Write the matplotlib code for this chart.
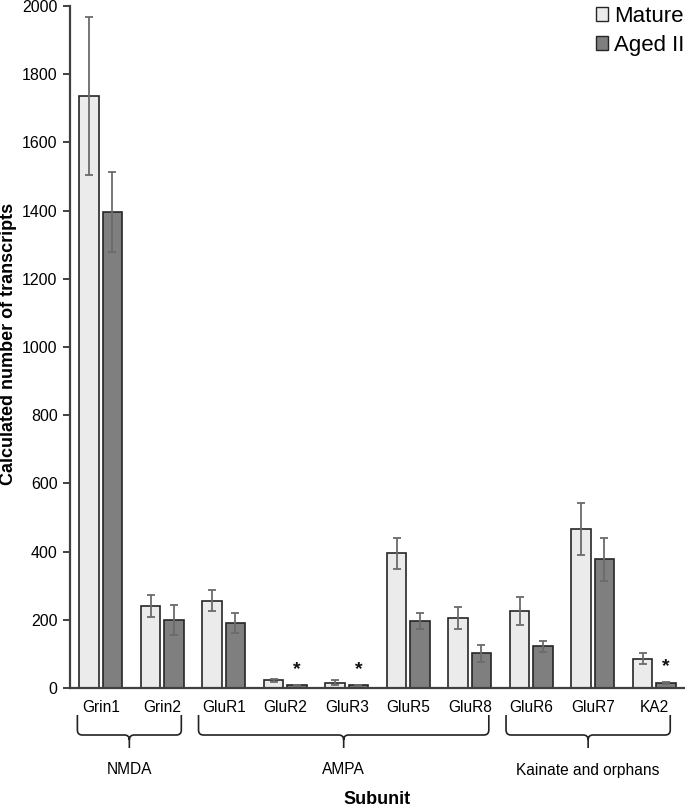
import matplotlib
matplotlib.use("Agg")
import matplotlib.pyplot as plt
import numpy as np
from matplotlib.path import Path
from matplotlib.patches import PathPatch, Patch
from matplotlib.transforms import blended_transform_factory

plt.rcParams['font.family'] = ['Liberation Sans', 'DejaVu Sans']

categories = ["Grin1", "Grin2", "GluR1", "GluR2", "GluR3", "GluR5", "GluR8", "GluR6", "GluR7", "KA2"]
mature = [1736, 240, 256, 22, 16, 395, 206, 226, 467, 86]
mature_err = [232, 32, 30, 4, 8, 45, 32, 40, 76, 16]
aged = [1396, 199, 190, 8, 8, 196, 102, 123, 377, 15]
aged_err = [118, 44, 30, 1, 2, 23, 25, 16, 63, 2]
significant = ["GluR2", "GluR3", "KA2"]
groups = [("NMDA", 0, 1), ("AMPA", 2, 6), ("Kainate and orphans", 7, 9)]
series_names = ["Mature", "Aged II"]
yticks = list(range(0, 2001, 200))

W, H = 685, 811
fig = plt.figure(figsize=(W / 100, H / 100), dpi=100)
ax = fig.add_axes([70 / W, 1 - 688 / H, 615 / W, 682 / H])

x = np.arange(len(categories))
bw = 0.32
off = 0.19
c_mat = "#ebebeb"
c_aged = "#7f7f7f"
edge = "#262626"
errc = "#6b6b6b"

ax.bar(x - off, mature, bw, color=c_mat, edgecolor=edge, linewidth=1.2, zorder=2)
ax.bar(x + off, aged, bw, color=c_aged, edgecolor=edge, linewidth=1.2, zorder=2)
ax.errorbar(x - off, mature, yerr=mature_err, fmt="none", ecolor=errc, elinewidth=1.3,
            capsize=3.2, capthick=1.3, zorder=3)
ax.errorbar(x + off, aged, yerr=aged_err, fmt="none", ecolor=errc, elinewidth=1.3,
            capsize=3.2, capthick=1.3, zorder=3)

for i, c in enumerate(categories):
    if c in significant:
        ax.annotate("*", xy=(x[i] + off, aged[i] + aged_err[i]), xytext=(0, 5),
                    textcoords="offset points", ha="center", va="bottom",
                    fontsize=14, fontweight="bold", color="#111111")

ax.set_xlim(-0.5, len(categories) - 0.5)
ax.set_ylim(0, 2000)
ax.set_yticks(yticks)
ax.set_yticklabels([str(v) for v in yticks], fontsize=11.5)
ax.set_xticks(x)
ax.set_xticklabels(categories, fontsize=11.2)
ax.tick_params(axis="x", length=0, pad=9)
ax.tick_params(axis="y", length=5, width=1.4, color="#404040", pad=4)
for s in ["top", "right"]:
    ax.spines[s].set_visible(False)
for s in ["left", "bottom"]:
    ax.spines[s].set_color("#404040")
    ax.spines[s].set_linewidth(1.6)

def fy(py):
    return 1 - py / H

fig.text(9 / W, fy(344), "Calculated number of transcripts", rotation=90,
         ha="center", va="center", fontsize=13, fontweight="bold")

# Braces
tr = blended_transform_factory(ax.transData, fig.transFigure)
y_top, y_mid, y_bot = fy(715), fy(735), fy(748)
r = 0.08
rv = (y_top - y_mid) * 0.25
for name, a, b in groups:
    x0 = a - 0.38 if a == 0 else a - 0.41
    x1 = b + 0.31 if b != len(categories) - 1 else b + 0.26
    xc = (x0 + x1) / 2
    verts = [
        (x0, y_top), (x0, y_mid + rv), (x0, y_mid), (x0 + r, y_mid),
        (xc - r, y_mid), (xc, y_mid), (xc, y_mid - rv), (xc, y_bot),
        (xc, y_mid - rv), (xc, y_mid), (xc + r, y_mid),
        (x1 - r, y_mid), (x1, y_mid), (x1, y_mid + rv), (x1, y_top),
    ]
    codes = [Path.MOVETO, Path.LINETO, Path.CURVE3, Path.CURVE3,
             Path.LINETO, Path.CURVE3, Path.CURVE3, Path.LINETO,
             Path.MOVETO, Path.CURVE3, Path.CURVE3,
             Path.LINETO, Path.CURVE3, Path.CURVE3, Path.LINETO]
    ax.add_patch(PathPatch(Path(verts, codes), transform=tr, fill=False,
                           edgecolor="#222222", linewidth=1.2, clip_on=False))
    ax.text(xc, fy(770), name, transform=tr, ha="center", va="center", fontsize=11.2)

fig.text((70 + 685) / 2 / W, fy(800), "Subunit", ha="center", va="center",
         fontsize=13, fontweight="bold")

handles = [Patch(facecolor=c_mat, edgecolor=edge, linewidth=1.0),
           Patch(facecolor=c_aged, edgecolor=edge, linewidth=1.0)]
fig.legend(handles, series_names, loc="upper left", bbox_to_anchor=(596 / W, 1 - 6 / H),
           frameon=False, fontsize=16, handlelength=0.55, handleheight=0.55,
           handletextpad=0.25, labelspacing=0.35, borderaxespad=0, borderpad=0)

fig.savefig("out.png", dpi=100)
